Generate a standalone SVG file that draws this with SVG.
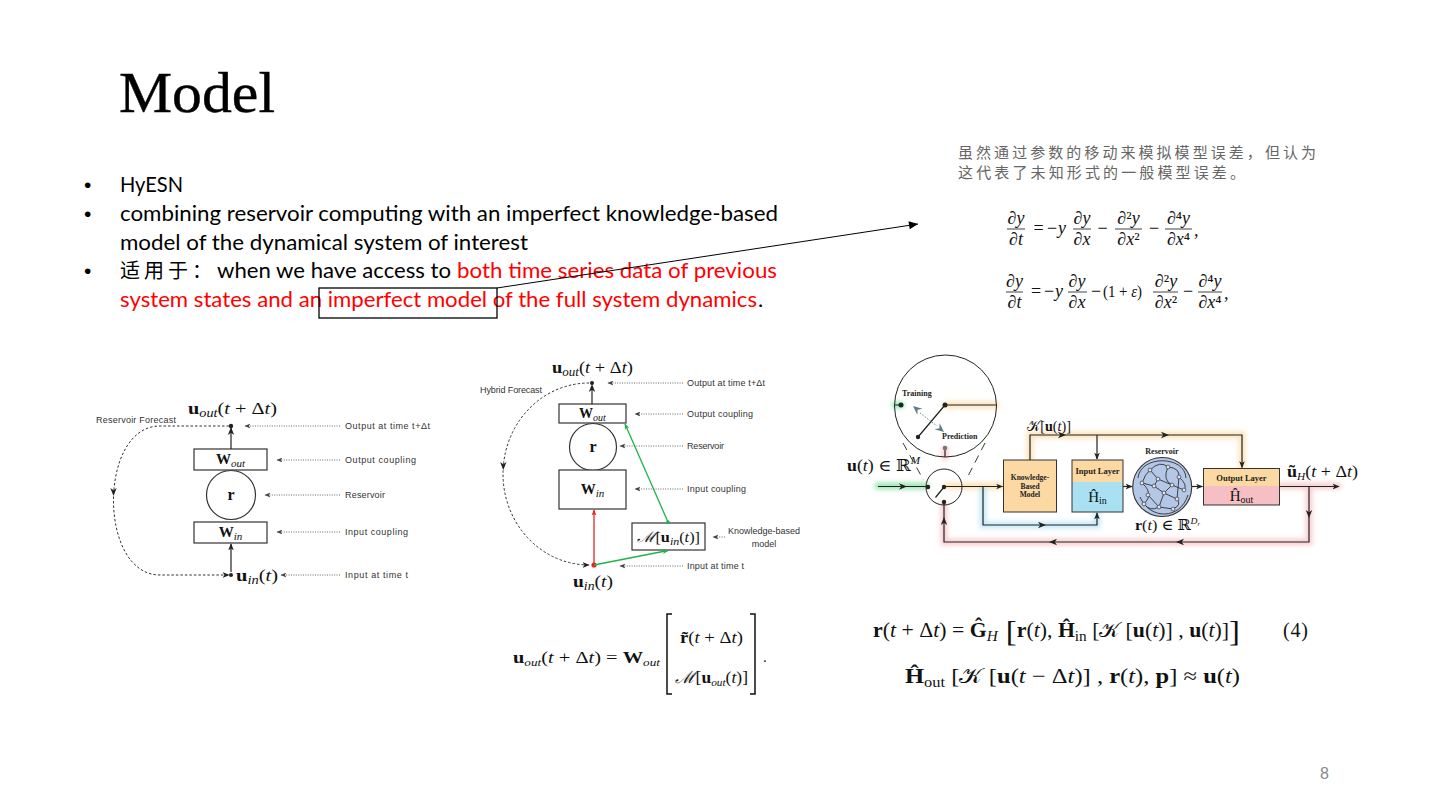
<svg xmlns="http://www.w3.org/2000/svg" width="1440" height="810" viewBox="0 0 1440 810">
<defs>
<style>
.body{font-family:Lato,"Liberation Sans",sans-serif;font-size:22px;fill:#000}
.red{fill:#ff0000}
.cjk{font-family:"Noto Sans CJK SC",sans-serif}
.lbl{font-family:"Liberation Sans",Arial,sans-serif;font-size:9px;fill:#333}
.m{font-family:"Liberation Serif","DejaVu Serif",serif;fill:#111}
.b{font-weight:bold}
.i{font-style:italic}
.bs{font-family:"Liberation Serif","DejaVu Serif",serif;font-weight:bold;fill:#222}
.ln{stroke:#222;stroke-width:1.2;fill:none}
.dl{stroke:#555;stroke-width:0.9;stroke-dasharray:1 1.4;fill:none}
.dash{stroke:#333;stroke-width:1;stroke-dasharray:2.5 2;fill:none}
.box{fill:#fff;stroke:#333;stroke-width:1.2}
.glow{fill:none;stroke-width:7;stroke-linecap:round;opacity:.5;filter:url(#blur)}
.rl{stroke:#1e1e1e;stroke-width:0.8;fill:none}
.nd{fill:#dfe6f3;stroke:#333;stroke-width:0.7}
.dot{fill:#222}
.bul{font-family:"Liberation Sans",sans-serif;font-size:21px;fill:#000}
</style>
<filter id="blur" filterUnits="userSpaceOnUse" x="0" y="0" width="1440" height="810"><feGaussianBlur stdDeviation="2"/></filter>
<marker id="a" viewBox="0 0 10 10" refX="9" refY="5" markerWidth="7" markerHeight="7" markerUnits="userSpaceOnUse" orient="auto"><path d="M0,1 L10,5 L0,9 L2.5,5z" fill="#222"/></marker>
<marker id="as" viewBox="0 0 10 10" refX="9" refY="5" markerWidth="6" markerHeight="6" markerUnits="userSpaceOnUse" orient="auto"><path d="M0,1 L10,5 L0,9 L2.5,5z" fill="#444"/></marker>
<marker id="ab" viewBox="0 0 10 10" refX="10" refY="5" markerWidth="11" markerHeight="9" markerUnits="userSpaceOnUse" orient="auto"><path d="M0,0.5 L10,5 L0,9.5z" fill="#000"/></marker>
<marker id="ag" viewBox="0 0 10 10" refX="9" refY="5" markerWidth="6" markerHeight="6" markerUnits="userSpaceOnUse" orient="auto"><path d="M0,1 L10,5 L0,9 L2.5,5z" fill="#1fb24a"/></marker>
<marker id="ar" viewBox="0 0 10 10" refX="9" refY="5" markerWidth="6" markerHeight="6" markerUnits="userSpaceOnUse" orient="auto"><path d="M0,1 L10,5 L0,9 L2.5,5z" fill="#e8251f"/></marker>
<path id="t" d="M-4,-3.2 L4,0 L-4,3.2 L-1.8,0z" fill="#222"/>
</defs>
<rect width="1440" height="810" fill="#fff"/>

<g id="title"><text x="119" y="112" font-family="'Liberation Serif',serif" font-size="57" stroke="#000" stroke-width="0.4" textLength="156" lengthAdjust="spacingAndGlyphs">Model</text></g>

<g id="bullets" class="body">
<text class="bul" x="84" y="192">•</text>
<text x="120" y="192" textLength="63" lengthAdjust="spacingAndGlyphs">HyESN</text>
<text class="bul" x="84" y="221">•</text>
<text x="120" y="221" textLength="658" lengthAdjust="spacingAndGlyphs">combining reservoir computing with an imperfect knowledge-based</text>
<text x="120" y="250" textLength="408" lengthAdjust="spacingAndGlyphs">model of the dynamical system of interest</text>
<text class="bul" x="84" y="278">•</text>
<text x="120" y="278" class="cjk" font-size="20" textLength="92">适用于：</text>
<text x="217" y="278" textLength="234" lengthAdjust="spacingAndGlyphs">when we have access to</text>
<text x="457" y="278" class="red" textLength="320" lengthAdjust="spacingAndGlyphs">both time series data of previous</text>
<text x="120" y="307" class="red" textLength="637" lengthAdjust="spacingAndGlyphs">system states and an imperfect model of the full system dynamics</text>
<text x="758" y="307">.</text>
</g>
<g id="highlight-box"><rect x="319" y="288" width="178" height="30" fill="none" stroke="#000" stroke-width="1.3"/></g>

<g id="note" class="cjk" font-size="15" fill="#666">
<text x="958" y="158" textLength="358">虽然通过参数的移动来模拟模型误差，但认为</text>
<text x="958" y="178" textLength="287">这代表了未知形式的一般模型误差。</text>
</g>

<g id="eq-ks1" class="m" font-size="18">
<text x="1016" y="224" text-anchor="middle">∂<tspan class="i">y</tspan></text>
<line x1="1007" y1="229" x2="1025" y2="229" stroke="#111" stroke-width="0.8"/>
<text x="1016" y="245" text-anchor="middle">∂<tspan class="i">t</tspan></text>
<text x="1038.5" y="234" text-anchor="middle">=</text>
<text x="1052" y="234" text-anchor="middle">−</text>
<text x="1062" y="234" text-anchor="middle" class="i">y</text>
<text x="1082" y="224" text-anchor="middle">∂<tspan class="i">y</tspan></text>
<line x1="1073" y1="229" x2="1091" y2="229" stroke="#111" stroke-width="0.8"/>
<text x="1082" y="245" text-anchor="middle">∂<tspan class="i">x</tspan></text>
<text x="1102.5" y="234" text-anchor="middle">−</text>
<text x="1128.5" y="224" text-anchor="middle">∂²<tspan class="i">y</tspan></text>
<line x1="1115" y1="229" x2="1142" y2="229" stroke="#111" stroke-width="0.8"/>
<text x="1128.5" y="245" text-anchor="middle">∂<tspan class="i">x</tspan>²</text>
<text x="1154" y="234" text-anchor="middle">−</text>
<text x="1178.5" y="224" text-anchor="middle">∂⁴<tspan class="i">y</tspan></text>
<line x1="1165" y1="229" x2="1192" y2="229" stroke="#111" stroke-width="0.8"/>
<text x="1178.5" y="245" text-anchor="middle">∂<tspan class="i">x</tspan>⁴</text>
<text x="1194" y="236">,</text>
</g>

<g id="eq-ks2" class="m" font-size="18">
<text x="1014.5" y="287" text-anchor="middle">∂<tspan class="i">y</tspan></text>
<line x1="1006" y1="292" x2="1023" y2="292" stroke="#111" stroke-width="0.8"/>
<text x="1014.5" y="308" text-anchor="middle">∂<tspan class="i">t</tspan></text>
<text x="1036" y="297" text-anchor="middle">=</text>
<text x="1049" y="297" text-anchor="middle">−</text>
<text x="1059" y="297" text-anchor="middle" class="i">y</text>
<text x="1077" y="287" text-anchor="middle">∂<tspan class="i">y</tspan></text>
<line x1="1068" y1="292" x2="1087" y2="292" stroke="#111" stroke-width="0.8"/>
<text x="1077" y="308" text-anchor="middle">∂<tspan class="i">x</tspan></text>
<text x="1096" y="297" text-anchor="middle">−</text>
<text x="1103" y="297" font-size="16" textLength="39" lengthAdjust="spacingAndGlyphs">(1 + <tspan class="i">ε</tspan>)</text>
<text x="1166" y="287" text-anchor="middle">∂²<tspan class="i">y</tspan></text>
<line x1="1153" y1="292" x2="1178" y2="292" stroke="#111" stroke-width="0.8"/>
<text x="1166" y="308" text-anchor="middle">∂<tspan class="i">x</tspan>²</text>
<text x="1188" y="297" text-anchor="middle">−</text>
<text x="1210" y="287" text-anchor="middle">∂⁴<tspan class="i">y</tspan></text>
<line x1="1198" y1="292" x2="1222" y2="292" stroke="#111" stroke-width="0.8"/>
<text x="1210" y="308" text-anchor="middle">∂<tspan class="i">x</tspan>⁴</text>
<text x="1224" y="299">,</text>
</g>

<!-- Left diagram: Reservoir Forecast -->
<g id="rf-out-label"><text class="m" x="188" y="414" font-size="17" textLength="89" lengthAdjust="spacingAndGlyphs"><tspan class="b">u</tspan><tspan class="i" font-size="12" dy="3">out</tspan><tspan dy="-3">(</tspan><tspan class="i">t</tspan> + Δ<tspan class="i">t</tspan>)</text></g>
<g id="rf-title"><text class="lbl" x="96" y="423" font-size="9.5" textLength="80">Reservoir Forecast</text></g>
<g id="rf-out-node"><circle class="dot" cx="231" cy="426" r="2.2"/></g>
<g id="rf-wout"><rect class="box" x="194" y="449" width="73" height="21"/><text class="m" x="230.5" y="464" font-size="15" text-anchor="middle"><tspan class="b">W</tspan><tspan class="i" font-size="11" dy="3">out</tspan></text></g>
<g id="rf-r"><circle class="box" cx="231" cy="495" r="24.5"/><text class="m b" x="231" y="500" font-size="16" text-anchor="middle">r</text></g>
<g id="rf-win"><rect class="box" x="194" y="522" width="73" height="21"/><text class="m" x="230.5" y="537" font-size="15" text-anchor="middle"><tspan class="b">W</tspan><tspan class="i" font-size="11" dy="3">in</tspan></text></g>
<g id="rf-in-node"><circle class="dot" cx="231" cy="575" r="2"/><text class="m" x="236" y="581" font-size="17" textLength="42" lengthAdjust="spacingAndGlyphs"><tspan class="b">u</tspan><tspan class="i" font-size="12" dy="3">in</tspan><tspan dy="-3">(</tspan><tspan class="i">t</tspan>)</text></g>
<g id="rf-labels" class="lbl">
<text x="345" y="429" textLength="85">Output at time t+Δt</text>
<text x="345" y="463" textLength="71">Output coupling</text>
<text x="345" y="498" textLength="40">Reservoir</text>
<text x="345" y="535" textLength="63">Input coupling</text>
<text x="345" y="578" textLength="63">Input at time t</text>
</g>
<g id="rf-connectors">
<line class="ln" x1="231" y1="449" x2="231" y2="428"/>
<use href="#t" transform="translate(231,431) rotate(-90)"/>
<line class="ln" x1="231" y1="572" x2="231" y2="544" marker-end="url(#a)"/>
<path class="dash" d="M229 426 H160 C98 426 98 575 160 575 H229" marker-end="url(#a)"/>
<use href="#t" transform="translate(113.5,492) rotate(90)"/>
<line class="dl" x1="340" y1="426" x2="245" y2="426" marker-end="url(#as)"/>
<line class="dl" x1="340" y1="460" x2="277" y2="460" marker-end="url(#as)"/>
<line class="dl" x1="340" y1="495" x2="265" y2="495" marker-end="url(#as)"/>
<line class="dl" x1="340" y1="532" x2="277" y2="532" marker-end="url(#as)"/>
<line class="dl" x1="340" y1="575" x2="281" y2="575" marker-end="url(#as)"/>
</g>

<!-- Middle diagram: Hybrid Forecast -->
<g id="hf-out-label"><text class="m" x="552" y="373" font-size="17" textLength="81" lengthAdjust="spacingAndGlyphs"><tspan class="b">u</tspan><tspan class="i" font-size="12" dy="3">out</tspan><tspan dy="-3">(</tspan><tspan class="i">t</tspan> + Δ<tspan class="i">t</tspan>)</text></g>
<g id="hf-title"><text class="lbl" x="480" y="393" font-size="8.5" textLength="62">Hybrid Forecast</text></g>
<g id="hf-out-node"><circle class="dot" cx="592" cy="383" r="2"/></g>
<g id="hf-wout"><rect class="box" x="559" y="404" width="67" height="19"/><text class="m" x="592.5" y="418" font-size="14" text-anchor="middle"><tspan class="b">W</tspan><tspan class="i" font-size="10" dy="3">out</tspan></text></g>
<g id="hf-r"><circle class="box" cx="593" cy="447" r="23.5"/><text class="m b" x="593" y="452" font-size="16" text-anchor="middle">r</text></g>
<g id="hf-win"><rect class="box" x="559" y="470" width="67" height="39"/><text class="m" x="592.5" y="494" font-size="15" text-anchor="middle"><tspan class="b">W</tspan><tspan class="i" font-size="11" dy="3">in</tspan></text></g>
<g id="hf-model"><rect class="box" x="632" y="523" width="73" height="27"/><text class="m" x="637" y="542" font-size="15" textLength="63" lengthAdjust="spacingAndGlyphs"><tspan class="i" font-family="'DejaVu Serif',serif">ℳ</tspan>[<tspan class="b">u</tspan><tspan class="i" font-size="11" dy="3">in</tspan><tspan dy="-3">(</tspan><tspan class="i">t</tspan>)]</text></g>
<g id="hf-in-node"><circle cx="594" cy="565" r="2.6" fill="#e8251f"/><text class="m" x="573" y="587" font-size="17" textLength="40" lengthAdjust="spacingAndGlyphs"><tspan class="b">u</tspan><tspan class="i" font-size="12" dy="3">in</tspan><tspan dy="-3">(</tspan><tspan class="i">t</tspan>)</text></g>
<g id="hf-labels" class="lbl" font-size="8.5">
<text x="687" y="386" textLength="78">Output at time t+Δt</text>
<text x="687" y="417" textLength="66">Output coupling</text>
<text x="687" y="449" textLength="37">Reservoir</text>
<text x="687" y="492" textLength="59">Input coupling</text>
<text x="728" y="534" textLength="72">Knowledge-based</text>
<text x="764" y="547" text-anchor="middle">model</text>
<text x="687" y="569" textLength="57">Input at time t</text>
</g>
<g id="hf-connectors">
<line class="ln" x1="592" y1="404" x2="592" y2="386"/>
<use href="#t" transform="translate(592,388) rotate(-90)"/>
<path class="dash" d="M589 383 A86 91 0 0 0 589 565" marker-end="url(#a)"/>
<use href="#t" transform="translate(503.3,466) rotate(90)"/>
<line x1="594" y1="565" x2="594" y2="510" stroke="#e8251f" stroke-width="1.3" marker-end="url(#ar)"/>
<line x1="594" y1="565" x2="668" y2="550.5" stroke="#1fb24a" stroke-width="1.3" marker-end="url(#ag)"/>
<line x1="668" y1="522" x2="625" y2="424" stroke="#1fb24a" stroke-width="1.3" marker-end="url(#ag)"/>
<circle cx="668" cy="522" r="1.8" fill="#1fb24a"/>
<line class="dl" x1="683" y1="383" x2="608" y2="383" marker-end="url(#as)"/>
<line class="dl" x1="683" y1="414" x2="635" y2="414" marker-end="url(#as)"/>
<line class="dl" x1="683" y1="446" x2="620" y2="446" marker-end="url(#as)"/>
<line class="dl" x1="683" y1="489" x2="635" y2="489" marker-end="url(#as)"/>
<line class="dl" x1="725" y1="537" x2="713" y2="537" marker-end="url(#as)"/>
<line class="dl" x1="683" y1="566" x2="620" y2="566" marker-end="url(#as)"/>
</g>

<!-- Right diagram: HyESN -->
<g id="hy-glows">
<path class="glow" stroke="#3ccf6e" d="M878 486 H926 M895 405 H901"/>
<path class="glow" stroke="#f9c97a" d="M947 486 H1002 M946 405 H996 M1030 459 V435 H1242 V466"/>
<path class="glow" stroke="#8fd6f0" d="M983 490 V525 H1097 V514"/>
<path class="glow" stroke="#f3a3a8" d="M1280 486 H1338 M1309 490 V542 H944 V505 M945 449 V457"/>
</g>
<g id="hy-zoom">
<circle cx="945.5" cy="406" r="51" fill="none" stroke="#222" stroke-width="1"/>
<path class="ln" stroke-width="1" d="M895 405 H901 M945 405 H996.5 M945 405 L918 437 M945 448 V457"/>
<circle class="dot" cx="901" cy="405" r="2.5"/>
<circle class="dot" cx="945" cy="405" r="2.5"/>
<circle class="dot" cx="918" cy="437" r="2.2"/>
<circle cx="945" cy="448" r="2.3" fill="#777"/>
<line x1="920" y1="413" x2="937" y2="426" stroke="#6a8a90" stroke-width="1" stroke-dasharray="1.5 1.5"/>
<path d="M0,0 L-9,-4 L-6,0 L-9,4z" fill="#5e7e85" transform="translate(913,406) rotate(-140)"/>
<path d="M0,0 L-9,-4 L-6,0 L-9,4z" fill="#5e7e85" transform="translate(944,432) rotate(40)"/>
<text class="bs" x="902" y="395.5" font-size="8">Training</text>
<text class="bs" x="942" y="439" font-size="8">Prediction</text>
<path d="M903 443 L923.5 480 M985 443 L966 480" stroke="#222" stroke-width="0.9" stroke-dasharray="8 6" fill="none"/>
</g>
<g id="hy-switch">
<circle cx="944" cy="487" r="18" fill="none" stroke="#222" stroke-width="1"/>
<circle class="dot" cx="928" cy="487" r="2.2"/>
<circle class="dot" cx="944" cy="487" r="2.2"/>
<circle class="dot" cx="944" cy="502" r="2.2"/>
<line class="ln" x1="935.5" y1="497.5" x2="944" y2="487"/>
</g>
<g id="hy-input"><text class="m" x="847" y="471" font-size="16" textLength="73" lengthAdjust="spacingAndGlyphs"><tspan class="b">u</tspan>(<tspan class="i">t</tspan>) ∈ ℝ<tspan class="i" font-size="10" dy="-7">M</tspan></text></g>
<g id="hy-kbm"><rect x="1003.5" y="460" width="53" height="52" fill="#fcd8a2" stroke="#333" stroke-width="1"/>
<text class="bs" font-size="7.5" text-anchor="middle"><tspan x="1030" y="480">Knowledge-</tspan><tspan x="1030" y="488.5">Based</tspan><tspan x="1030" y="497">Model</tspan></text></g>
<g id="hy-k-label"><text class="m" x="1027" y="431" font-size="15" textLength="44" lengthAdjust="spacingAndGlyphs">𝒦[<tspan class="b">u</tspan>(<tspan class="i">t</tspan>)]</text></g>
<g id="hy-input-layer"><rect x="1072" y="460" width="51" height="22" fill="#fcd8a2"/><rect x="1072" y="482" width="51" height="30" fill="#a9e0f2"/><rect x="1072" y="460" width="51" height="52" fill="none" stroke="#333" stroke-width="1"/>
<text class="bs" x="1097.5" y="474" font-size="8.5" text-anchor="middle">Input Layer</text>
<text class="m" x="1097.5" y="502" font-size="15" text-anchor="middle">Ĥ<tspan font-size="10" dy="2">in</tspan></text></g>
<g id="hy-reservoir">
<text class="bs" x="1162" y="453.5" font-size="8" text-anchor="middle">Reservoir</text>
<circle cx="1162.2" cy="487" r="29.5" fill="#b5c7e6" stroke="#333" stroke-width="1.1"/>
<path class="rl" d="M1150,470 Q1160,460 1168,467 M1168,467 Q1180,468 1179,477 M1179,477 Q1188,485 1184,490 M1142,483 Q1145,474 1150,470 M1150,470 L1158,479 L1172,485 L1184,490 M1142,483 Q1150,490 1148,495 M1154,486 L1164,493 L1177,499 M1148,495 L1159,507 L1173,509 Q1182,505 1177,499 M1144,504 Q1150,497 1148,495 M1144,504 Q1150,512 1159,507 M1158,479 L1154,486 M1164,493 L1159,507 M1172,485 L1164,493 M1168,467 Q1162,480 1172,485 M1138,478 C1140,455 1185,455 1186,478 M1140,497 C1150,520 1180,520 1188,495 M1179,477 L1177,499 M1142,483 L1154,486"/>
<g class="nd"><circle cx="1150" cy="470" r="1.9"/><circle cx="1168" cy="467" r="1.9"/><circle cx="1179" cy="477" r="1.9"/><circle cx="1142" cy="483" r="1.9"/><circle cx="1158" cy="479" r="1.9"/><circle cx="1172" cy="485" r="1.9"/><circle cx="1184" cy="490" r="1.9"/><circle cx="1148" cy="495" r="1.9"/><circle cx="1164" cy="493" r="1.9"/><circle cx="1177" cy="499" r="1.9"/><circle cx="1144" cy="504" r="1.9"/><circle cx="1159" cy="507" r="1.9"/><circle cx="1173" cy="509" r="1.9"/><circle cx="1154" cy="486" r="1.9"/></g>
<text class="m" x="1135" y="530" font-size="15" textLength="65" lengthAdjust="spacingAndGlyphs"><tspan class="b">r</tspan>(<tspan class="i">t</tspan>) ∈ ℝ<tspan class="i" font-size="9" dy="-6">D</tspan><tspan class="i" font-size="6" dy="2">r</tspan></text>
</g>
<g id="hy-output-layer"><rect x="1203.5" y="468.5" width="76" height="17.5" fill="#fcd8a2"/><rect x="1203.5" y="486" width="76" height="19" fill="#f5bfc3"/><rect x="1203.5" y="468.5" width="76" height="36.5" fill="none" stroke="#333" stroke-width="1"/>
<text class="bs" x="1241.5" y="481" font-size="8.5" text-anchor="middle">Output Layer</text>
<text class="m" x="1241.5" y="501" font-size="15" text-anchor="middle">Ĥ<tspan font-size="10" dy="2">out</tspan></text></g>
<g id="hy-output-label"><text class="m" x="1287" y="477" font-size="16" textLength="71" lengthAdjust="spacingAndGlyphs"><tspan class="b">ũ</tspan><tspan class="i" font-size="10" dy="3">H</tspan><tspan dy="-3">(</tspan><tspan class="i">t</tspan> + Δ<tspan class="i">t</tspan>)</text></g>
<g id="hy-connectors" stroke-width="1">
<line class="ln" x1="878" y1="486.5" x2="927" y2="486.5" stroke-width="1"/>
<use href="#t" transform="translate(903,486.5)"/>
<line class="ln" x1="944" y1="486.5" x2="1002.5" y2="486.5" stroke-width="1" marker-end="url(#a)"/>
<path class="ln" stroke-width="1" d="M983 486.5 V525 H1097 V513" marker-end="url(#a)"/>
<use href="#t" transform="translate(1042,525)"/>
<path class="ln" stroke-width="1" d="M1030 460 V435 H1242 V467.5" marker-end="url(#a)"/>
<line class="ln" x1="1097" y1="435" x2="1097" y2="459" stroke-width="1" marker-end="url(#a)"/>
<use href="#t" transform="translate(1062,435)"/>
<use href="#t" transform="translate(1165,435)"/>
<line class="ln" x1="1123" y1="486.5" x2="1132" y2="486.5" stroke-width="1" marker-end="url(#a)"/>
<line class="ln" x1="1192" y1="486.5" x2="1202.5" y2="486.5" stroke-width="1" marker-end="url(#a)"/>
<line class="ln" x1="1279.5" y1="486.5" x2="1339" y2="486.5" stroke-width="1" marker-end="url(#a)"/>
<path class="ln" stroke-width="1" d="M1309 486.5 V542 H944 V503"/>
<use href="#t" transform="translate(1309,514) rotate(90)"/>
<use href="#t" transform="translate(1180,542) rotate(180)"/>
<use href="#t" transform="translate(1053,542) rotate(180)"/>
<use href="#t" transform="translate(944,521) rotate(-90)"/>
</g>

<!-- Slide callout arrow -->
<g id="callout"><line x1="497" y1="288" x2="918" y2="224" stroke="#000" stroke-width="1" marker-end="url(#ab)"/></g>

<!-- Bottom equations -->
<g id="eq-hybrid-out" class="m">
<text x="513" y="663" font-size="17" textLength="147" lengthAdjust="spacingAndGlyphs"><tspan class="b">u</tspan><tspan class="i" font-size="11" dy="3">out</tspan><tspan dy="-3">(</tspan><tspan class="i">t</tspan> + Δ<tspan class="i">t</tspan>) = <tspan class="b">W</tspan><tspan class="i" font-size="11" dy="3">out</tspan></text>
<path d="M672 614 H667 V694 H672 M750 614 H755 V694 H750" fill="none" stroke="#111" stroke-width="1.5"/>
<text x="680" y="643" font-size="17" textLength="63" lengthAdjust="spacingAndGlyphs"><tspan class="b">r̃</tspan>(<tspan class="i">t</tspan> + Δ<tspan class="i">t</tspan>)</text>
<text x="675" y="683" font-size="17" textLength="73" lengthAdjust="spacingAndGlyphs"><tspan class="i" font-family="'DejaVu Serif',serif">ℳ</tspan>[<tspan class="b">u</tspan><tspan class="i" font-size="11" dy="3">out</tspan><tspan dy="-3">(</tspan><tspan class="i">t</tspan>)]</text>
<text x="763" y="662" font-size="15">.</text>
</g>
<g id="eq-hyesn" class="m" font-size="20">
<text x="873" y="637" textLength="367" lengthAdjust="spacingAndGlyphs"><tspan class="b">r</tspan>(<tspan class="i">t</tspan> + Δ<tspan class="i">t</tspan>) = <tspan class="b">Ĝ</tspan><tspan class="i" font-size="14" dy="4">H</tspan><tspan font-size="30" dy="0"> [</tspan><tspan dy="-4" class="b">r</tspan>(<tspan class="i">t</tspan>), <tspan class="b">Ĥ</tspan><tspan font-size="14" dy="4">in</tspan><tspan dy="-4"> [𝒦 [</tspan><tspan class="b">u</tspan>(<tspan class="i">t</tspan>)] , <tspan class="b">u</tspan>(<tspan class="i">t</tspan>)]<tspan font-size="30" dy="4">]</tspan></text>
<text x="1283" y="637" textLength="25">(4)</text>
<text x="905" y="683" font-size="21" textLength="335" lengthAdjust="spacingAndGlyphs"><tspan class="b">Ĥ</tspan><tspan font-size="14" dy="4">out</tspan><tspan dy="-4"> [𝒦 [</tspan><tspan class="b">u</tspan>(<tspan class="i">t</tspan> − Δ<tspan class="i">t</tspan>)] , <tspan class="b">r</tspan>(<tspan class="i">t</tspan>), <tspan class="b">p</tspan>] ≈ <tspan class="b">u</tspan>(<tspan class="i">t</tspan>)</text>
</g>

<g id="page-number"><text x="1320" y="779" font-family="'Liberation Sans',sans-serif" font-size="16" fill="#8a8a8a">8</text></g>
</svg>
